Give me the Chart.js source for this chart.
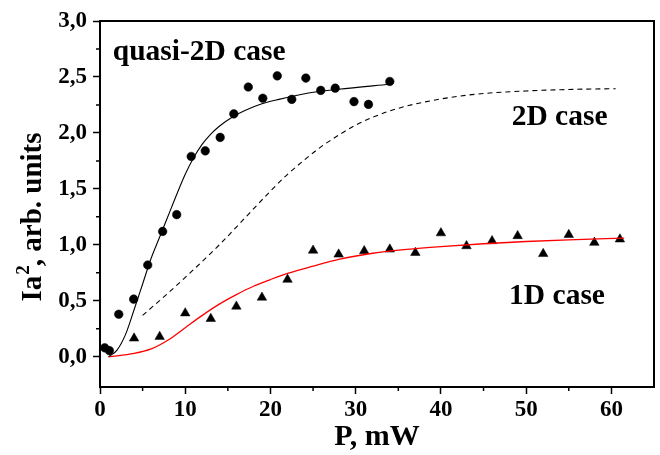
<!DOCTYPE html>
<html>
<head>
<meta charset="utf-8">
<script src="https://cdn.jsdelivr.net/npm/chart.js@4.4.0/dist/chart.umd.min.js"></script>
<style>
  body { margin: 0; background: #fff; }
  #wrap { width: 660px; height: 455px; }
</style>
</head>
<body>
<div id="wrap"><canvas id="chart"></canvas></div>
<script>
const FONT = "'Liberation Serif', 'Times New Roman', serif";

// quasi-2D case: measured points (circles) and fit
const quasiP = [0.55, 1.1, 2.2, 3.95, 5.6, 7.35, 9.0, 10.7, 12.35, 14.1, 15.7, 17.4, 19.1, 20.8, 22.5, 24.15, 25.9, 27.6, 29.8, 31.5, 34.0];
const quasiI = [0.08, 0.055, 0.38, 0.515, 0.82, 1.12, 1.27, 1.79, 1.84, 1.96, 2.17, 2.41, 2.31, 2.51, 2.30, 2.49, 2.38, 2.40, 2.28, 2.255, 2.46];
const quasiFitP = [1.0, 2.0, 3.0, 4.0, 5.0, 6.0, 7.0, 8.0, 9.0, 10.0, 11.0, 12.0, 13.0, 14.0, 15.5, 17.0, 19.0, 21.0, 24.0, 28.0, 34.0];
const quasiFitI = [0.0, 0.06, 0.2, 0.42, 0.65, 0.88, 1.07, 1.26, 1.45, 1.63, 1.78, 1.90, 1.99, 2.06, 2.14, 2.20, 2.26, 2.30, 2.35, 2.39, 2.435];

// 2D case: dashed curve
const twoDP = [5, 8, 11, 14, 17, 20, 22, 24, 26, 28, 30, 32, 35, 39, 44, 50, 56, 60.5];
const twoDI = [0.37, 0.57, 0.78, 1.00, 1.24, 1.48, 1.63, 1.76, 1.88, 1.98, 2.07, 2.14, 2.22, 2.29, 2.345, 2.375, 2.39, 2.395];

// 1D case: measured points (triangles) and fit
const oneDP = [4, 7, 10, 13, 16, 19, 22, 25, 28, 31, 34, 37, 40, 43, 46, 49, 52, 55, 58, 61];
const oneDI = [0.165, 0.18, 0.39, 0.34, 0.45, 0.53, 0.69, 0.95, 0.915, 0.945, 0.96, 0.93, 1.105, 0.99, 1.035, 1.08, 0.92, 1.09, 1.02, 1.05];
const oneDFitP = [1.0, 4, 6, 8, 10, 12, 14, 16, 18, 20, 22, 25, 28, 32, 36, 40, 45, 50, 55, 61.5];
const oneDFitI = [0.0, 0.03, 0.07, 0.15, 0.26, 0.37, 0.47, 0.555, 0.63, 0.69, 0.745, 0.81, 0.87, 0.925, 0.96, 0.985, 1.01, 1.03, 1.045, 1.06];

const xTicks = [0, 10, 20, 30, 40, 50, 60];
const xTickLabels = ['0', '10', '20', '30', '40', '50', '60'];
const xMinor = [5, 15, 25, 35, 45, 55];
const yTicks = [0, 0.5, 1.0, 1.5, 2.0, 2.5, 3.0];
const yTickLabels = ['0,0', '0,5', '1,0', '1,5', '2,0', '2,5', '3,0'];
const yMinor = [0.25, 0.75, 1.25, 1.75, 2.25, 2.75];

const notes = [
  { text: 'quasi-2D case', x: 1.5, y: 2.65 },
  { text: '2D case', x: 48.3, y: 2.07 },
  { text: '1D case', x: 48.0, y: 0.47 }
];

function pts(xs, ys) {
  return xs.map((x, i) => ({ x: x, y: ys[i] }));
}

const frame = {
  id: 'frame',
  afterDraw(chart) {
    const { ctx, chartArea: a, scales } = chart;
    const xs = scales.x, ys = scales.y;
    ctx.save();
    ctx.strokeStyle = '#000';
    ctx.lineWidth = 2;
    ctx.strokeRect(a.left, a.top, a.right - a.left, a.bottom - a.top);

    // minor ticks
    ctx.lineWidth = 1.5;
    ctx.beginPath();
    xMinor.forEach(v => {
      const px = xs.getPixelForValue(v);
      ctx.moveTo(px, a.bottom);
      ctx.lineTo(px, a.bottom + 4);
    });
    yMinor.forEach(v => {
      const py = ys.getPixelForValue(v);
      ctx.moveTo(a.left, py);
      ctx.lineTo(a.left - 4, py);
    });
    ctx.stroke();

    // annotations
    ctx.fillStyle = '#000';
    ctx.font = 'bold 29.5px ' + FONT;
    ctx.textAlign = 'left';
    ctx.textBaseline = 'alphabetic';
    notes.forEach(n => {
      ctx.fillText(n.text, xs.getPixelForValue(n.x), ys.getPixelForValue(n.y));
    });

    // y title with superscript
    const big = 'bold 29px ' + FONT, small = 'bold 19px ' + FONT;
    ctx.font = big;
    const w1 = ctx.measureText('Ia').width;
    const w3 = ctx.measureText(', arb. units').width;
    ctx.font = small;
    const w2 = ctx.measureText('2').width;
    const total = w1 + w2 + w3;
    ctx.translate(41, (a.top + a.bottom) / 2 + 13);
    ctx.rotate(-Math.PI / 2);
    let x0 = -total / 2;
    ctx.font = big;
    ctx.fillText('Ia', x0, 0);
    ctx.font = small;
    ctx.fillText('2', x0 + w1 + 1, -12);
    ctx.font = big;
    ctx.fillText(', arb. units', x0 + w1 + w2, 0);
    ctx.restore();
  }
};

new Chart(document.getElementById('chart'), {
  type: 'scatter',
  data: {
    datasets: [
      {
        data: pts(quasiFitP, quasiFitI),
        showLine: true, pointRadius: 0,
        borderColor: '#000', borderWidth: 1.1,
        cubicInterpolationMode: 'monotone'
      },
      {
        data: pts(twoDP, twoDI),
        showLine: true, pointRadius: 0,
        borderColor: '#000', borderWidth: 1.1, borderDash: [5, 4],
        cubicInterpolationMode: 'monotone'
      },
      {
        data: pts(oneDFitP, oneDFitI),
        showLine: true, pointRadius: 0,
        borderColor: '#ff0000', borderWidth: 1.3,
        cubicInterpolationMode: 'monotone'
      },
      {
        data: pts(quasiP, quasiI),
        pointStyle: 'circle', pointRadius: 4.3,
        backgroundColor: '#000', borderColor: '#000', borderWidth: 0.5
      },
      {
        data: pts(oneDP, oneDI),
        pointStyle: 'triangle', pointRadius: 5.5,
        backgroundColor: '#000', borderColor: '#000', borderWidth: 0.5
      }
    ]
  },
  options: {
    responsive: true,
    maintainAspectRatio: false,
    animation: false,
    layout: { padding: { top: 21, right: 1 } },
    plugins: { legend: { display: false }, tooltip: { enabled: false } },
    scales: {
      x: {
        type: 'linear', min: 0, max: 65,
        afterBuildTicks: s => { s.ticks = xTicks.map(v => ({ value: v })); },
        afterFit: s => { s.height = 68; },
        ticks: {
          callback: (v, i) => xTickLabels[i],
          font: { family: FONT, size: 23, weight: 'bold' },
          color: '#000', padding: 2, maxRotation: 0, autoSkip: false
        },
        grid: { drawOnChartArea: false, tickLength: 7, tickColor: '#000', tickWidth: 1.5 },
        border: { color: '#000', width: 2 },
        title: {
          display: true, text: 'P, mW', color: '#000', padding: 0,
          font: { family: FONT, size: 30, weight: 'bold' }
        }
      },
      y: {
        type: 'linear', min: -0.27, max: 3.0,
        afterBuildTicks: s => { s.ticks = yTicks.map(v => ({ value: v })); },
        afterFit: s => { s.width = 100; },
        ticks: {
          callback: (v, i) => yTickLabels[i],
          font: { family: FONT, size: 23, weight: 'bold' },
          color: '#000', padding: 6, autoSkip: false
        },
        grid: { drawOnChartArea: false, tickLength: 7, tickColor: '#000', tickWidth: 1.5 },
        border: { color: '#000', width: 2 }
      }
    }
  },
  plugins: [frame]
});
</script>
</body>
</html>
